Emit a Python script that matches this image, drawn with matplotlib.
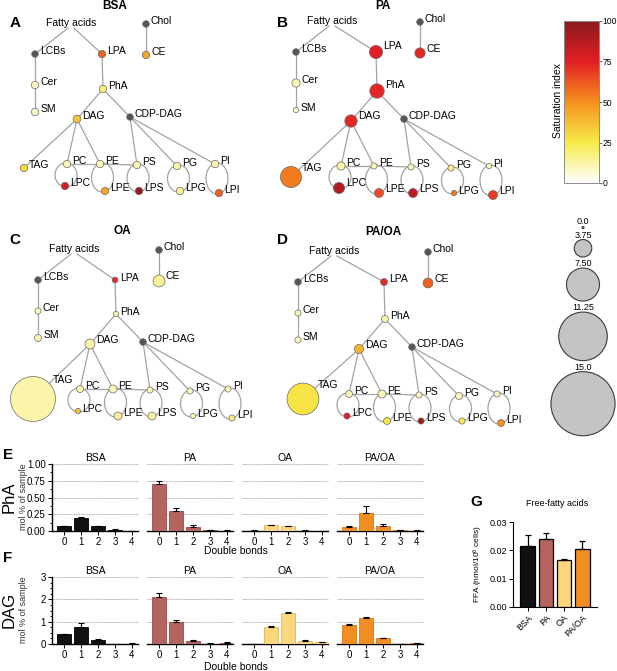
import numpy as np
import matplotlib
matplotlib.use('Agg')
import matplotlib.pyplot as plt
from matplotlib.patches import Circle, Ellipse
from matplotlib.colors import LinearSegmentedColormap, Normalize
from matplotlib.cm import ScalarMappable
from matplotlib.ticker import AutoMinorLocator, FormatStrFormatter

plt.rcParams['font.family'] = ['Liberation Sans', 'DejaVu Sans']
plt.rcParams['mathtext.default'] = 'regular'

# ---------------- data ----------------
nodes = ['LCBs', 'LPA', 'Chol', 'CE', 'Cer', 'SM', 'PhA', 'DAG', 'CDP-DAG', 'TAG',
         'PC', 'PE', 'PS', 'PG', 'PI', 'LPC', 'LPE', 'LPS', 'LPG', 'LPI']
nan = np.nan
# saturation index per node (nan = not measured, drawn grey)
sat_bsa = [nan, 60, nan, 45, 8, 8, 18, 35, nan, 30, 10, 10, 10, 12, 10, 78, 45, 95, 15, 60]
sat_pa = [nan, 75, nan, 73, 10, 8, 73, 73, nan, 55, 12, 10, 10, 18, 10, 88, 65, 85, 55, 68]
sat_oa = [nan, 72, nan, 15, 10, 10, 12, 12, nan, 12, 10, 10, 10, 10, 10, 35, 15, 12, 10, 18]
sat_paoa = [nan, 72, nan, 60, 10, 10, 12, 40, nan, 27, 10, 10, 10, 10, 10, 75, 25, 95, 25, 50]
# node size values
size_bsa = [nan, 1.3, nan, 1.3, 1.3, 1.3, 1.3, 1.4, nan, 1.3, 1.3, 1.3, 1.3, 1.3, 1.3, 1.3, 1.3, 1.3, 1.3, 1.3]
size_pa = [nan, 2.7, nan, 2.0, 1.5, 0.8, 3.0, 2.5, nan, 4.6, 1.5, 1.0, 1.0, 1.0, 0.8, 2.2, 1.7, 1.7, 0.8, 1.7]
size_oa = [nan, 0.9, nan, 2.4, 1.0, 1.2, 0.8, 1.9, nan, 10.4, 1.2, 1.45, 1.0, 1.0, 1.0, 0.8, 1.45, 1.45, 0.8, 1.0]
size_paoa = [nan, 1.2, nan, 1.9, 1.0, 1.0, 1.2, 1.7, nan, 7.2, 1.2, 1.45, 1.0, 1.2, 1.0, 1.0, 1.2, 1.0, 1.0, 1.2]
size_legend = [0.0, 3.75, 7.50, 11.25, 15.0]
size_legend_labels = ['0.0', '3.75', '7.50', '11.25', '15.0']

groups = ['BSA', 'PA', 'OA', 'PA/OA']
double_bonds = ['0', '1', '2', '3', '4']
pha_vals = [[0.075, 0.195, 0.075, 0.02, 0.005],
            [0.70, 0.30, 0.065, 0.015, 0.006],
            [0.005, 0.085, 0.07, 0.006, 0.0],
            [0.055, 0.27, 0.07, 0.015, 0.006]]
pha_errs = [[0.005, 0.008, 0.005, 0.003, 0.002],
            [0.045, 0.04, 0.02, 0.005, 0.003],
            [0.003, 0.01, 0.008, 0.003, 0.0],
            [0.02, 0.10, 0.03, 0.005, 0.003]]
dag_vals = [[0.43, 0.75, 0.18, 0.0, 0.02],
            [2.12, 1.0, 0.14, 0.02, 0.05],
            [0.0, 0.76, 1.40, 0.15, 0.08],
            [0.85, 1.15, 0.25, 0.0, 0.03]]
dag_errs = [[0.02, 0.19, 0.03, 0.0, 0.01],
            [0.15, 0.07, 0.03, 0.01, 0.02],
            [0.0, 0.04, 0.03, 0.02, 0.02],
            [0.04, 0.04, 0.02, 0.0, 0.02]]
ffa_vals = [0.0215, 0.0241, 0.0167, 0.0204]
ffa_errs = [0.0038, 0.0020, 0.0002, 0.0028]

# ---------------- styles / layout ----------------
W, H = 617, 671
fig = plt.figure(figsize=(6.17, 6.71), dpi=100)

def px_axes(x, y, w, h):
    return fig.add_axes([x / W, 1 - (y + h) / H, w / W, h / H])

cmap = LinearSegmentedColormap.from_list(
    'sat', [(0, '#ffffff'), (0.25, '#f7ea48'), (0.5, '#f6901e'), (0.75, '#e31e24'), (1.0, '#8a1a1c')])
norm = Normalize(0, 100)
bar_colors = ['#111111', '#b5635f', '#fad67c', '#f28d22']
bar_edges = ['#000000', '#9a4a47', '#e2b558', '#d9781a']
edge_col = '#a3a3a3'

# node offsets relative to LCBs
base = {'FA': (36, -31), 'LCBs': (0, 0), 'LPA': (80, 0), 'Chol': (124, -30), 'CE': (124, 1),
        'Cer': (0, 31), 'SM': (0, 58), 'PhA': (81, 39), 'DAG': (55, 69), 'CDP-DAG': (108, 67),
        'PC': (45, 114), 'PE': (78, 114), 'PS': (115, 115), 'PG': (155, 116), 'PI': (193, 114),
        'LPC': (43, 136), 'LPE': (83, 141), 'LPS': (117, 141), 'LPG': (158, 141), 'LPI': (197, 143)}
edges = [('LCBs', 'Cer'), ('Cer', 'SM'), ('LPA', 'PhA'), ('Chol', 'CE'), ('PhA', 'DAG'),
         ('PhA', 'CDP-DAG'), ('DAG', 'TAG'), ('DAG', 'PC'), ('DAG', 'PE'), ('CDP-DAG', 'PS'),
         ('CDP-DAG', 'PG'), ('CDP-DAG', 'PI'), ('PC', 'PE'), ('PE', 'PS')]
loops = [('PC', 'LPC'), ('PE', 'LPE'), ('PS', 'LPS'), ('PG', 'LPG'), ('PI', 'LPI')]

net = fig.add_axes([0, 0, 1, 1])
net.set_xlim(0, W)
net.set_ylim(H, 0)
net.axis('off')


def radius(v):
    return 1 + 2.07 * v


def draw_network(anchor, dx, dy, tag, sat, size, title, title_xy, letter, letter_xy):
    x0, y0 = anchor
    pos = {}
    for k, (x, y) in base.items():
        if k in ('FA', 'LCBs', 'Cer', 'SM'):
            pos[k] = (x0 + x, y0 + y)
        elif k in ('Chol', 'CE', 'LPA'):
            pos[k] = (x0 + x + dx, y0 + y)
        else:
            pos[k] = (x0 + x + dx, y0 + y + dy)
    pos['TAG'] = (x0 + tag[0], y0 + tag[1])
    fx, fy = pos['FA']
    for tgt, sx in (('LCBs', -3), ('LPA', 3)):
        net.plot([fx + sx, pos[tgt][0]], [fy + 5, pos[tgt][1]], color=edge_col, lw=0.9, zorder=1)
    for a, b in edges:
        net.plot([pos[a][0], pos[b][0]], [pos[a][1], pos[b][1]], color=edge_col, lw=0.9, zorder=1)
    for a, b in loops:
        (xa, ya), (xb, yb) = pos[a], pos[b]
        net.add_patch(Ellipse(((xa + xb) / 2, (ya + yb) / 2), 22, (yb - ya) + 2,
                              fill=False, ec=edge_col, lw=0.9, zorder=1))
    net.text(fx, fy, 'Fatty acids', ha='center', va='center', fontsize=7.5)
    for i, n in enumerate(nodes):
        x, y = pos[n]
        if np.isnan(sat[i]):
            r, fc = 3.3, '#555555'
        else:
            r, fc = radius(size[i]), cmap(norm(sat[i]))
        net.add_patch(Circle((x, y), r, fc=fc, ec='#6a6a6a', lw=0.5, zorder=2))
        net.text(x + 0.75 * r + 2.5, y - 0.85 * r, n, ha='left', va='center', fontsize=7.5, zorder=3)
    net.text(*title_xy, title, ha='center', va='center', fontsize=8.5, fontweight='bold')
    net.text(*letter_xy, letter, ha='center', va='center', fontsize=11, fontweight='bold')


draw_network((35, 54), -13, -4, (-11, 114), sat_bsa, size_bsa, 'BSA', (115, 6), 'A', (15, 23))
draw_network((296, 52), 0, 0, (-5, 125), sat_pa, size_pa, 'PA', (383, 6), 'B', (282, 23))
draw_network((38, 280), -3, -5, (-5, 119), sat_oa, size_oa, 'OA', (122, 231), 'C', (15, 240))
draw_network((298, 282), 6, -2, (5, 117), sat_paoa, size_paoa, 'PA/OA', (383, 232), 'D', (282, 240))

# size legend
cy = 222
for v, lab in zip(size_legend, size_legend_labels):
    r = radius(v)
    net.text(583, cy, lab, ha='center', va='center', fontsize=6.5)
    c = cy + r + 4.5
    net.add_patch(Circle((583, c), r, fc='#c4c4c4', ec='#3a3a3a', lw=0.8))
    cy = c + r + 6.5

# colorbar
cax = px_axes(564, 21, 35, 162)
cb = fig.colorbar(ScalarMappable(norm=norm, cmap=cmap), cax=cax)
cb.set_ticks([0, 25, 50, 75, 100])
cax.tick_params(labelsize=6.2, length=2, width=0.6, color='#555555', pad=0.8)
cb.outline.set_edgecolor('#8a8a8a')
cb.outline.set_linewidth(0.7)
fig.text(558 / W, 1 - 100 / H, 'Saturation index', rotation=90, ha='center', va='center', fontsize=7.5)


# ---------------- bar rows E / F ----------------
def bar_row(top, vals, errs, ymax, yticks, fmt, nminor, big_label, letter, letter_y, xlabel_y):
    x = np.arange(len(double_bonds))
    for i, g in enumerate(groups):
        ax = px_axes(52 + 95 * i, top, 86, 67)
        ax.bar(x, vals[i], width=0.82, color=bar_colors[i], edgecolor=bar_edges[i], lw=0.6, zorder=3)
        ax.errorbar(x, vals[i], yerr=[np.zeros(len(x)), errs[i]], fmt='none', ecolor='black',
                    elinewidth=0.8, capsize=2.3, capthick=0.8, zorder=4)
        ax.set_xlim(-0.72, 4.36)
        ax.set_ylim(0, ymax)
        for t in yticks[1:]:
            ax.axhline(t, color='#8a8a8a', ls=(0, (1, 1)), lw=0.6, zorder=1, clip_on=False)
        for s in ('top', 'right'):
            ax.spines[s].set_visible(False)
        ax.spines['bottom'].set_linewidth(1.0)
        ax.set_xticks(x)
        ax.set_xticklabels(double_bonds)
        ax.tick_params(axis='x', labelsize=7, length=3, width=0.7, pad=1.5)
        ax.set_title(g, fontsize=7.5, pad=2.5)
        if i == 0:
            ax.set_yticks(yticks)
            ax.yaxis.set_major_formatter(FormatStrFormatter(fmt))
            ax.yaxis.set_minor_locator(AutoMinorLocator(nminor))
            ax.tick_params(axis='y', labelsize=7, length=3, width=0.7, pad=1.5)
            ax.tick_params(axis='y', which='minor', length=1.5, width=0.6)
            ax.spines['left'].set_linewidth(1.0)
        else:
            ax.spines['left'].set_visible(False)
            ax.set_yticks([])
    fig.text(23 / W, 1 - (top + 33) / H, 'mol % of sample', rotation=90, ha='center', va='center',
             fontsize=6.5, color='#333333')
    fig.text(9 / W, 1 - (top + 33) / H, big_label, rotation=90, ha='center', va='center', fontsize=12)
    fig.text(8 / W, 1 - letter_y / H, letter, ha='center', va='center', fontsize=11, fontweight='bold')
    fig.text(236 / W, 1 - xlabel_y / H, 'Double bonds', ha='center', va='center', fontsize=7.5)


bar_row(464, pha_vals, pha_errs, 1.0, [0, 0.25, 0.5, 0.75, 1.0], '%.2f', 2, 'PhA', 'E', 455, 551)
bar_row(577, dag_vals, dag_errs, 3.0, [0, 1, 2, 3], '%d', 4, 'DAG', 'F', 558, 667)

# ---------------- G ----------------
gax = px_axes(513, 522, 84, 85)
gx = np.arange(len(groups))
gax.bar(gx, ffa_vals, width=0.83, color=bar_colors, edgecolor='black', lw=0.9, zorder=3)
gax.errorbar(gx, ffa_vals, yerr=[np.zeros(len(gx)), ffa_errs], fmt='none', ecolor='black',
             elinewidth=0.9, capsize=2.5, capthick=0.9, zorder=4)
gax.set_xlim(-0.83, 3.83)
gax.set_ylim(0, 0.03)
gax.set_yticks([0, 0.01, 0.02, 0.03])
gax.yaxis.set_major_formatter(FormatStrFormatter('%.2f'))
for s in ('top', 'right'):
    gax.spines[s].set_visible(False)
gax.set_xticks(gx)
gax.set_xticklabels(groups, rotation=45, ha='right', rotation_mode='anchor')
gax.tick_params(axis='x', labelsize=6.5, length=3, width=0.7, pad=1.5)
gax.tick_params(axis='y', labelsize=6.5, length=3, width=0.7, pad=1.5)
gax.set_ylabel('FFA (nmol/10$^6$ cells)', fontsize=6, labelpad=3)
fig.text(557 / W, 1 - 504 / H, 'Free-fatty acids', ha='center', va='center', fontsize=6.5)
fig.text(476 / W, 1 - 502 / H, 'G', ha='center', va='center', fontsize=11, fontweight='bold')

fig.savefig('out.png', dpi=100)
